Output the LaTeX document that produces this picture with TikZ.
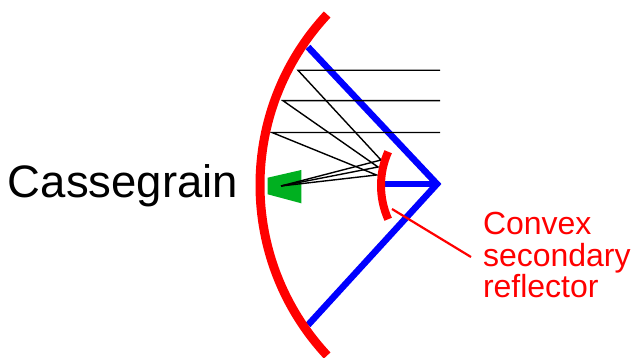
\documentclass[tikz,border=0pt]{standalone}
\usepackage{fontspec}
\setmainfont{Liberation Sans}
\tikzset{
  primary/.style={draw=red,line width=9pt},
  secondary/.style={draw=red,line width=8pt},
  strut/.style={draw=blue,line width=6.5pt,line cap=butt,line join=miter},
  ray/.style={draw=black,line width=1.4pt},
  leader/.style={draw=red,line width=2.2pt},
  lbl/.style={inner sep=0pt,outer sep=0pt,anchor=base west},
}
\begin{document}
\begin{tikzpicture}[x=1pt,y=-1pt]
\useasboundingbox (0,0) rectangle (633,358);
\coordinate (vertex) at (437,184);
\coordinate (upper) at (308,47);
\coordinate (lower) at (308,325);
\coordinate (sechub) at (383,184);
\coordinate (focus) at (281,186);
% feed
\fill[fill={rgb,255:red,0;green,176;blue,32}] (267.7,177.7) -- (301.3,170) -- (301.3,203.3) -- (267.7,194.3) -- cycle;
% struts
\draw[strut] (upper) -- (vertex) -- (lower);
\draw[strut] (sechub) -- (vertex);
% rays
\foreach \n/\xa/\ya/\xb/\yb in {a/298/70.3/381/160, b/283/100.7/378/167, c/272/132.5/376.5/175}{
  \coordinate (p\n) at (\xa,\ya);
  \coordinate (s\n) at (\xb,\yb);
  \coordinate (i\n) at (440,\ya);
  \draw[ray] (i\n) -- (p\n) -- (s\n) -- (focus);
}
% reflectors
\path[primary] (510,185) ++(223:250) arc[start angle=223,end angle=137,radius=250];
\path[secondary] (464,185.5) ++(204:83) arc[start angle=204,end angle=156,radius=83];
% labels
\node[lbl,font=\fontsize{45.5}{45.5}\selectfont] (title) at (8,198) {Cassegrain};
\node[lbl,font=\fontsize{32}{32}\selectfont,text=red] (l1) at (483,235) {Convex};
\node[lbl,font=\fontsize{32}{32}\selectfont,text=red] (l2) at (483,266.5) {secondary};
\node[lbl,font=\fontsize{32}{32}\selectfont,text=red] (l3) at (483,298) {reflector};
\coordinate (lfrom) at (471,257);
\coordinate (lto) at (392,209);
\draw[leader] (lfrom) -- (lto);
\end{tikzpicture}
\end{document}
